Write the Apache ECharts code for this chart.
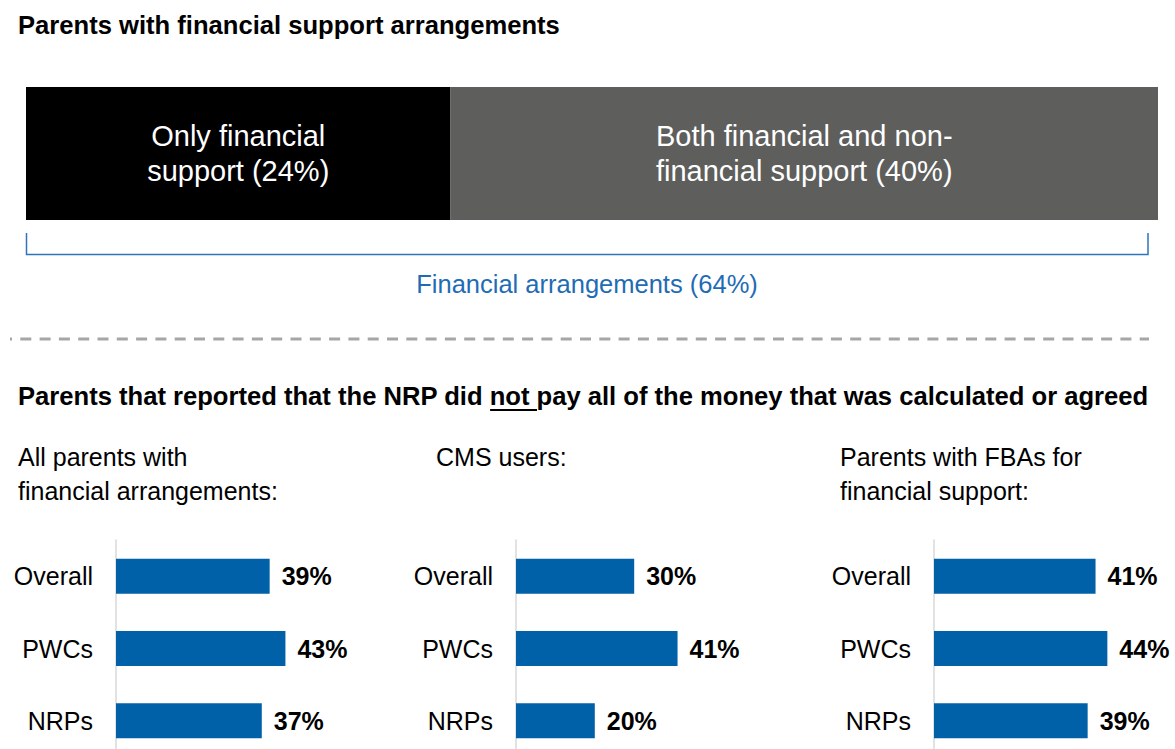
<!DOCTYPE html>
<html>
<head>
<meta charset="utf-8">
<title>Financial support arrangements</title>
<script src="https://cdn.jsdelivr.net/npm/echarts@6/dist/echarts.min.js"></script>
<style>
  html, body { margin: 0; padding: 0; background: #ffffff; overflow: hidden; }
  #chart { width: 1175px; height: 762px; }
</style>
</head>
<body>
<div id="chart"></div>
<script>
// Top stacked bar: type of support among parents with arrangements
const supportTypes = ['Only financial\nsupport', 'Both financial and non-\nfinancial support'];
const supportShares = [24, 40];
const supportColors = ['#000000', '#5e5e5c'];

// Lower panels: share reporting the NRP did not pay in full
const categories = ['Overall', 'PWCs', 'NRPs'];
const allParents = [39, 43, 37];
const cmsUsers = [30, 41, 20];
const fbaParents = [41, 44, 39];
const panelTitles = [
  'All parents with\nfinancial arrangements:',
  'CMS users:',
  'Parents with FBAs for\nfinancial support:'
];

const FONT = '"Liberation Sans", Arial, Helvetica, sans-serif';
const mainTitle = 'Parents with financial support arrangements';
const subTitleBefore = 'Parents that reported that the NRP did ';
const subTitleNot = 'not';
const subTitleAfter = ' pay all of the money that was calculated or agreed';

const chart = echarts.init(document.getElementById('chart'), null, { renderer: 'svg' });

const totalShare = supportShares.reduce((a, b) => a + b, 0);
const panelData = [allParents, cmsUsers, fbaParents];
const panelLeft = [116, 516, 934];
const panelMax = 60;
const panelWidth = 236.4;

const grids = [{ left: 26, top: 87, width: 1132, height: 133 }];
const xAxes = [{ gridIndex: 0, type: 'value', min: 0, max: totalShare, show: false }];
const yAxes = [{ gridIndex: 0, type: 'category', data: ['support'], show: false }];
const series = [];

supportTypes.forEach((name, i) => {
  series.push({
    type: 'bar',
    name: name,
    xAxisIndex: 0,
    yAxisIndex: 0,
    stack: 'support',
    barWidth: '100%',
    itemStyle: { color: supportColors[i] },
    label: {
      show: true,
      position: 'inside',
      color: '#ffffff',
      fontFamily: FONT,
      fontSize: 29,
      lineHeight: 35,
      align: 'center',
      formatter: (p) => p.seriesName + ' (' + p.value + '%)'
    },
    data: [supportShares[i]]
  });
});

panelData.forEach((values, k) => {
  const gi = k + 1;
  grids.push({ left: panelLeft[k], top: 540, width: panelWidth, height: 217 });
  xAxes.push({ gridIndex: gi, type: 'value', min: 0, max: panelMax, show: false });
  yAxes.push({
    gridIndex: gi,
    type: 'category',
    inverse: true,
    data: categories,
    axisLine: { show: true, lineStyle: { color: '#d9d9d9', width: 1.5 } },
    axisTick: { show: false },
    axisLabel: { color: '#000000', fontFamily: FONT, fontSize: 25, margin: 23 }
  });
  series.push({
    type: 'bar',
    xAxisIndex: gi,
    yAxisIndex: gi,
    barWidth: 35,
    itemStyle: { color: '#0060a8' },
    label: {
      show: true,
      position: 'right',
      distance: 12,
      color: '#000000',
      fontFamily: FONT,
      fontSize: 25,
      fontWeight: 'bold',
      formatter: '{c}%'
    },
    data: values
  });
});

chart.setOption({
  animation: false,
  backgroundColor: '#ffffff',
  grid: grids,
  xAxis: xAxes,
  yAxis: yAxes,
  series: series
});

// Width of a text run, used to place the underline under "not"
function textWidth(str, font) {
  const ctx = document.createElement('canvas').getContext('2d');
  ctx.font = font;
  return ctx.measureText(str).width;
}

const headSize = 25.6;
const subFont = 'bold ' + headSize + 'px ' + FONT;
const subX = 18;
const notStart = subX + textWidth(subTitleBefore, subFont);
const notEnd = notStart + textWidth(subTitleNot + ' ', subFont);

// Bracket spanning all financial arrangements on the top bar
const bx0 = chart.convertToPixel({ xAxisIndex: 0 }, 0);
const bx1 = chart.convertToPixel({ xAxisIndex: 0 }, totalShare) - 10;

const textStyle = (text, size, weight, extra) => Object.assign({
  text: text,
  fontFamily: FONT,
  fontSize: size,
  fontWeight: weight,
  fill: '#000000',
  align: 'left',
  verticalAlign: 'middle'
}, extra || {});

const graphics = [
  { type: 'text', x: 18, y: 25, style: textStyle(mainTitle, headSize, 'bold') },
  {
    type: 'polyline',
    shape: { points: [[bx0 + 0.5, 233], [bx0 + 0.5, 254.5], [bx1, 254.5], [bx1, 233]] },
    style: { stroke: '#2e75b6', lineWidth: 1.5, fill: null }
  },
  {
    type: 'text', x: (bx0 + bx1) / 2, y: 284,
    style: textStyle('Financial arrangements (' + totalShare + '%)', 25.5, 'normal', { fill: '#1f6cb5', align: 'center' })
  },
  {
    type: 'line',
    shape: { x1: 10, y1: 339, x2: 1149, y2: 339 },
    style: { stroke: '#a6a6a6', lineWidth: 3, lineDash: [11, 8.3], lineDashOffset: 9 }
  },
  { type: 'text', x: subX, y: 396, style: textStyle(subTitleBefore + subTitleNot + subTitleAfter, headSize, 'bold') },
  {
    type: 'line',
    shape: { x1: notStart, y1: 410, x2: notEnd, y2: 410 },
    style: { stroke: '#000000', lineWidth: 2 }
  }
];

// Panel headings, first line centred near y = 457
const headerX = [18, 436, 840];
panelTitles.forEach((t, k) => {
  graphics.push({
    type: 'text', x: headerX[k], y: 457 - 17,
    style: textStyle(t, 25, 'normal', { verticalAlign: 'top', lineHeight: 34 })
  });
});

chart.setOption({ graphic: graphics });
</script>
</body>
</html>
